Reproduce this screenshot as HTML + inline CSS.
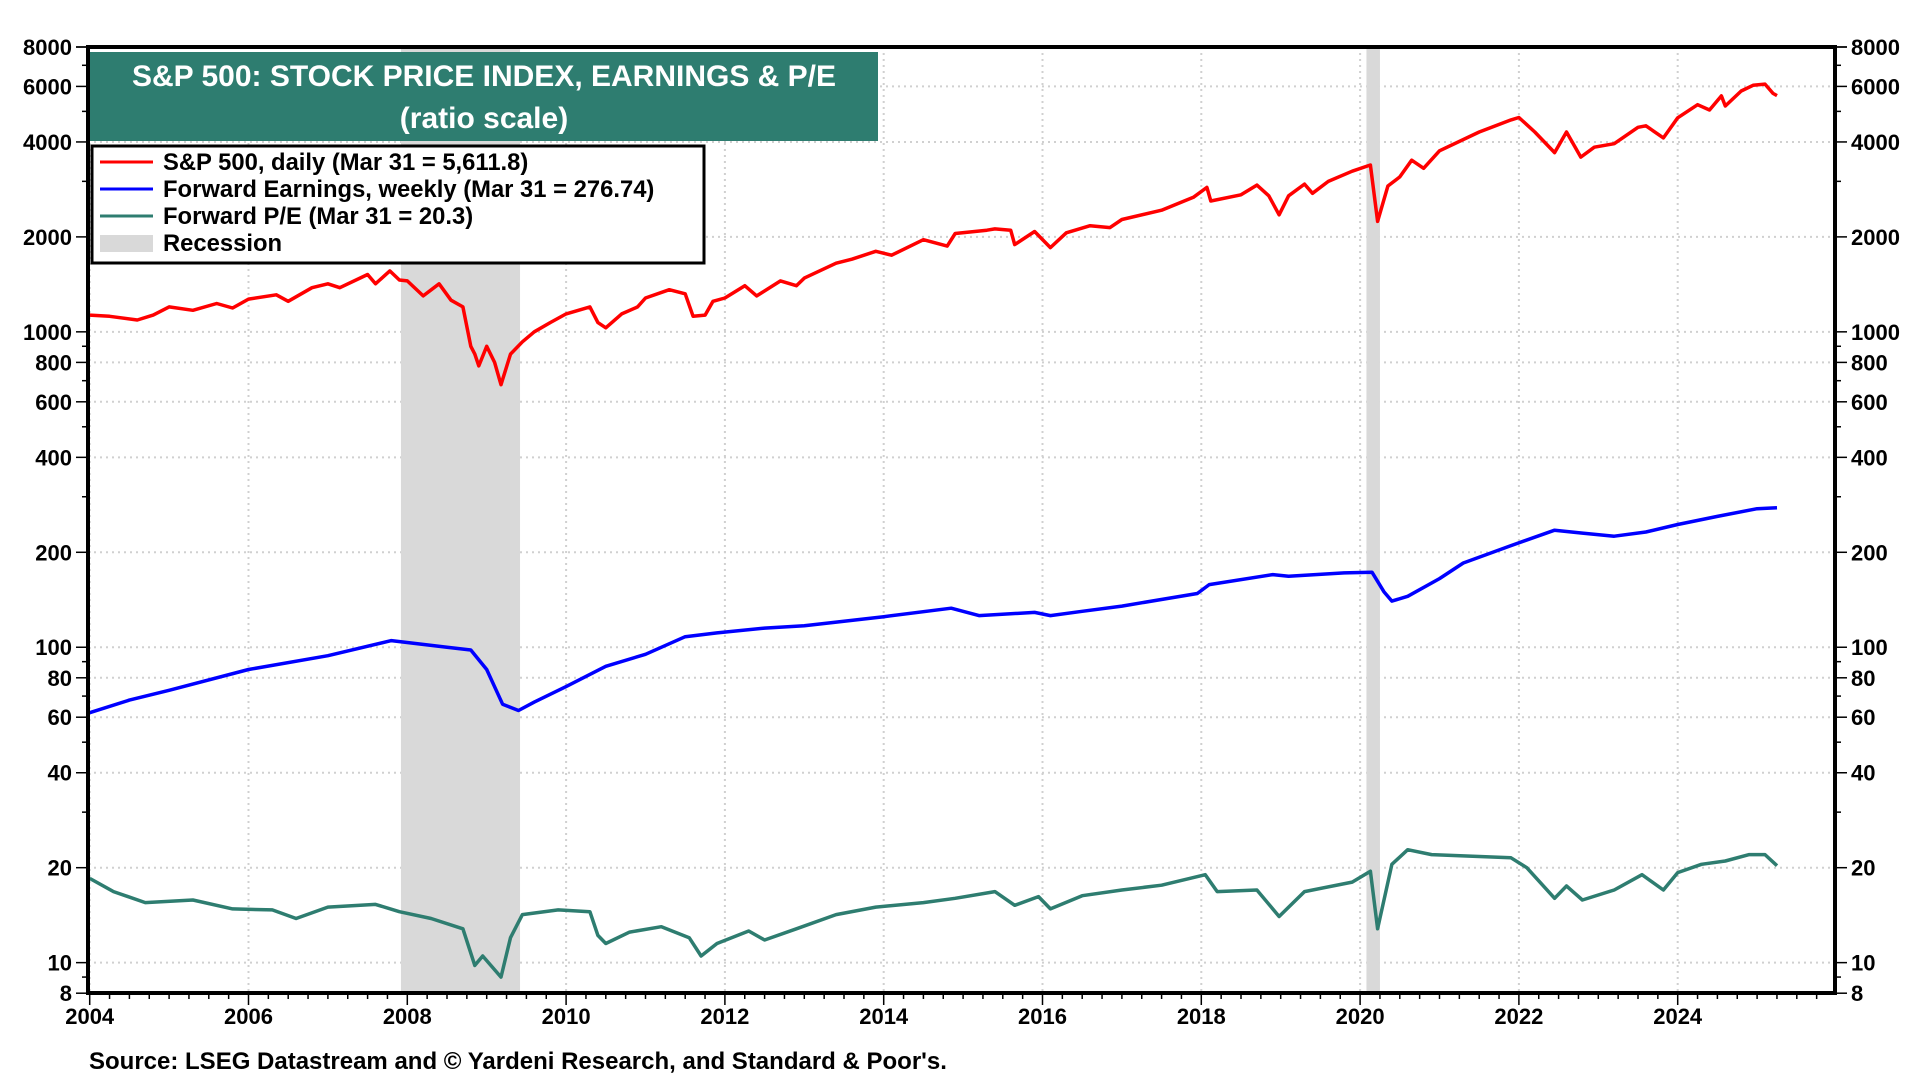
<!DOCTYPE html>
<html><head><meta charset="utf-8"><style>
html,body{margin:0;padding:0;background:#fff;}
svg{display:block;font-family:"Liberation Sans",Arial,sans-serif;font-weight:bold;}
</style></head><body>
<svg id="chart" width="1920" height="1080" viewBox="0 0 1920 1080" xmlns="http://www.w3.org/2000/svg">
<g id="grid"></g>
<g id="rec"></g>
<g id="series"></g>
<g id="axes"></g>
<rect x="90" y="52" width="788" height="89" fill="#2e7d70"/>
<text x="484" y="86" fill="#fff" font-size="30" text-anchor="middle">S&amp;P 500: STOCK PRICE INDEX, EARNINGS &amp; P/E</text>
<text x="484" y="128" fill="#fff" font-size="30" text-anchor="middle">(ratio scale)</text>
<g>
<rect x="92" y="146" width="612" height="117" fill="#fff" stroke="#000" stroke-width="3"/>
<g><line x1="100" y1="162" x2="153" y2="162" stroke="#ff0000" stroke-width="3"/><text x="163" y="170" font-size="23.8">S&amp;P 500, daily (Mar 31 = 5,611.8)</text></g>
<g><line x1="100" y1="189" x2="153" y2="189" stroke="#0000ff" stroke-width="3"/><text x="163" y="197" font-size="23.8">Forward Earnings, weekly (Mar 31 = 276.74)</text></g>
<g><line x1="100" y1="216" x2="153" y2="216" stroke="#2e7d70" stroke-width="3"/><text x="163" y="224" font-size="23.8">Forward P/E (Mar 31 = 20.3)</text></g>
<g><rect x="100" y="235" width="53" height="17" fill="#d9d9d9"/><text x="163" y="251" font-size="23.8">Recession</text></g>
</g>
<text x="89" y="1069" font-size="24">Source: LSEG Datastream and © Yardeni Research, and Standard &amp; Poor's.</text>
</svg>
<script>
const yearTicks=[2004,2006,2008,2010,2012,2014,2016,2018,2020,2022,2024];
const yTickLabels=[8000,6000,4000,2000,1000,800,600,400,200,100,80,60,40,20,10,8];
const recessions=[[2007.92,2009.42],[2020.08,2020.25]];
const spDates=[2004.0,2004.25,2004.6,2004.8,2005.0,2005.3,2005.6,2005.8,2006.0,2006.35,2006.5,2006.8,2007.0,2007.15,2007.5,2007.6,2007.78,2007.9,2008.0,2008.2,2008.4,2008.55,2008.7,2008.8,2008.85,2008.9,2009.0,2009.1,2009.18,2009.3,2009.45,2009.6,2009.8,2010.0,2010.3,2010.4,2010.5,2010.7,2010.9,2011.0,2011.3,2011.5,2011.6,2011.75,2011.85,2012.0,2012.25,2012.4,2012.7,2012.9,2013.0,2013.4,2013.6,2013.9,2014.1,2014.5,2014.8,2014.9,2015.3,2015.4,2015.6,2015.65,2015.9,2016.1,2016.3,2016.6,2016.85,2017.0,2017.5,2017.9,2018.07,2018.12,2018.5,2018.7,2018.85,2018.98,2019.1,2019.3,2019.4,2019.6,2019.9,2020.13,2020.22,2020.35,2020.5,2020.65,2020.8,2021.0,2021.5,2021.9,2022.0,2022.2,2022.45,2022.6,2022.78,2022.95,2023.2,2023.5,2023.6,2023.82,2024.0,2024.25,2024.4,2024.55,2024.6,2024.8,2024.95,2025.1,2025.2,2025.25];
const spValues=[1130,1120,1090,1130,1200,1170,1230,1190,1270,1310,1250,1380,1420,1380,1520,1420,1560,1460,1450,1300,1420,1260,1200,900,850,780,900,800,680,850,930,1000,1070,1140,1200,1070,1030,1140,1200,1280,1360,1320,1120,1130,1250,1280,1400,1300,1450,1400,1480,1650,1700,1800,1750,1960,1870,2050,2100,2120,2100,1890,2080,1850,2060,2170,2140,2270,2430,2670,2870,2600,2720,2920,2700,2350,2700,2940,2750,3000,3230,3380,2240,2900,3100,3500,3300,3750,4300,4700,4780,4300,3700,4300,3580,3850,3950,4450,4500,4120,4770,5250,5050,5600,5200,5800,6050,6100,5700,5612];
const epsDates=[2004,2004.5,2005,2006,2007,2007.8,2008.5,2008.8,2009.0,2009.2,2009.4,2009.6,2010.0,2010.5,2011.0,2011.5,2011.9,2012.5,2013,2014,2014.85,2015.2,2015.9,2016.1,2016.5,2017,2017.95,2018.1,2018.9,2019.1,2019.8,2020.15,2020.3,2020.4,2020.6,2021.0,2021.3,2021.9,2022.45,2022.8,2023.2,2023.6,2024.0,2024.5,2025.0,2025.25];
const epsValues=[62,68,73,85,94,105,100,98,85,66,63,67,75,87,95,108,111,115,117,125,133,126,129,126,130,135,148,158,170,168,172,173,150,140,145,165,185,210,235,230,225,232,245,260,275,277];
const peDates=[2004,2004.3,2004.7,2005.3,2005.8,2006.3,2006.6,2007.0,2007.6,2007.9,2008.3,2008.7,2008.85,2008.95,2009.18,2009.3,2009.45,2009.9,2010.3,2010.4,2010.5,2010.8,2011.2,2011.55,2011.7,2011.9,2012.3,2012.5,2012.9,2013.4,2013.9,2014.5,2014.9,2015.4,2015.65,2015.95,2016.1,2016.5,2017,2017.5,2018.05,2018.2,2018.7,2018.98,2019.3,2019.9,2020.13,2020.22,2020.4,2020.6,2020.9,2021.3,2021.9,2022.1,2022.45,2022.6,2022.8,2023.2,2023.55,2023.82,2024.0,2024.3,2024.6,2024.9,2025.1,2025.25];
const peValues=[18.5,16.8,15.5,15.8,14.8,14.7,13.8,15.0,15.3,14.5,13.8,12.8,9.8,10.5,9.0,12.0,14.2,14.7,14.5,12.2,11.5,12.5,13.0,12.0,10.5,11.5,12.6,11.8,12.8,14.2,15.0,15.5,16.0,16.8,15.2,16.2,14.8,16.3,17.0,17.6,19.0,16.8,17.0,14.0,16.8,18.0,19.5,12.8,20.5,22.8,22.0,21.8,21.5,20.0,16.0,17.5,15.8,17.0,19.0,17.0,19.3,20.5,21.0,22.0,22.0,20.3];

const NS='http://www.w3.org/2000/svg';
const L=88,R=1835,T=47,B=993;
const xS=y=>89.7+(y-2004)*79.4;
const yS=v=>T+(Math.log10(8000)-Math.log10(v))*315.4;
function mk(tag,attrs,parent){const e=document.createElementNS(NS,tag);for(const k in attrs)e.setAttribute(k,attrs[k]);parent.appendChild(e);return e;}
const grid=document.getElementById('grid'),rec=document.getElementById('rec'),ser=document.getElementById('series'),axes=document.getElementById('axes');
yearTicks.forEach(y=>{
  const l=mk('line',{x1:xS(y),x2:xS(y),y1:T,y2:B,stroke:'#d0d0d0','stroke-width':2,'stroke-dasharray':'2,4'},grid);
  
  
});
yTickLabels.forEach(v=>{
  const l=mk('line',{x1:L,x2:R,y1:yS(v),y2:yS(v),stroke:'#d0d0d0','stroke-width':2,'stroke-dasharray':'2,4'},grid);
  
  
});
recessions.forEach(r=>{
  const b=mk('rect',{x:xS(r[0]),y:T,width:xS(r[1])-xS(r[0]),height:B-T,fill:'#d9d9d9'},rec);
  
  
});
function line(d,v,color,name){
  const pts=d.map((x,i)=>xS(x).toFixed(1)+','+yS(v[i]).toFixed(1)).join(' ');
  const p=mk('polyline',{points:pts,fill:'none',stroke:color,'stroke-width':3.5,'stroke-linejoin':'round'},ser);
  
  
}
line(spDates,spValues,'#ff0000','sp500-line');
line(epsDates,epsValues,'#0000ff','forward-earnings-line');
line(peDates,peValues,'#2e7d70','forward-pe-line');
const fr=mk('rect',{x:L,y:T,width:R-L,height:B-T,fill:'none',stroke:'#000','stroke-width':4},axes);


const minors=[];
for(let d=1;d<=1000;d*=10){for(let m=1;m<10;m++){const v=m*d;if(v>=8&&v<=8000)minors.push(v);}}
minors.push(8000);
minors.forEach(v=>{
  const big=yTickLabels.includes(v);
  mk('line',{x1:L-(big?12:6),x2:L,y1:yS(v),y2:yS(v),stroke:'#000','stroke-width':1.5},axes);
  mk('line',{x1:R,x2:R+(big?12:6),y1:yS(v),y2:yS(v),stroke:'#000','stroke-width':1.5},axes);
});
yTickLabels.forEach(v=>{
  const a=mk('text',{x:L-16,y:yS(v)+8,'font-size':22,'text-anchor':'end'},axes);a.textContent=v;
  
  
  const b=mk('text',{x:R+16,y:yS(v)+8,'font-size':22,'text-anchor':'start'},axes);b.textContent=v;
  
  
});
for(let q=0;q<=22*4;q++){
  const y=2004+q/4;const x=xS(y);if(x>R)break;
  const big=q%8===0;
  mk('line',{x1:x,x2:x,y1:B,y2:B+(big?12:6),stroke:'#000','stroke-width':1.5},axes);
}
yearTicks.forEach(y=>{
  const t=mk('text',{x:xS(y),y:B+31,'font-size':22,'text-anchor':'middle'},axes);t.textContent=y;
  
  
});
</script>
</body></html>
